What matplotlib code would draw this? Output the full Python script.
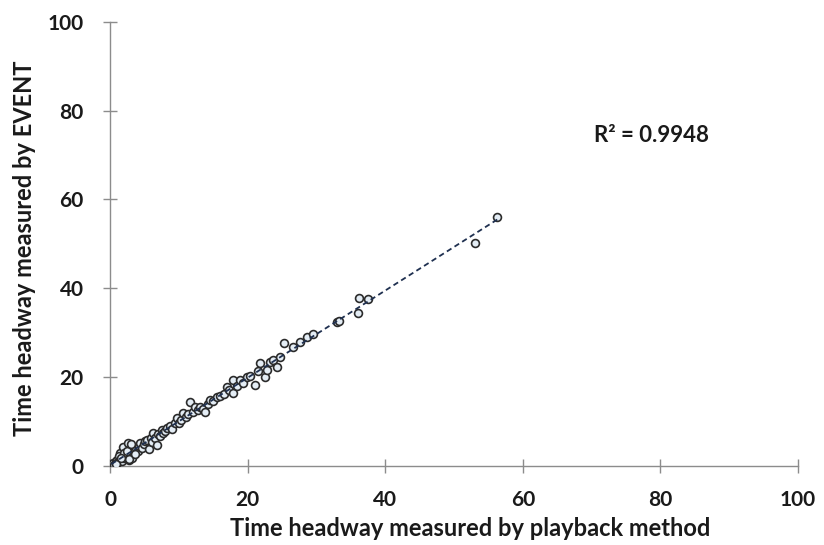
import matplotlib.pyplot as plt
import numpy as np

# Time headway (s): playback method vs EVENT
playback = [
    0.4, 0.6, 0.8, 1.0, 1.2, 1.5, 1.7, 1.9, 2.1, 2.3, 2.5, 2.6, 2.8, 3.0,
    3.2, 3.3, 3.5, 3.8, 4.0, 4.2, 4.4, 4.6, 4.9, 5.1, 5.4, 5.6, 5.9, 6.1,
    6.3, 6.6, 6.8, 7.0, 7.2, 7.5, 7.7, 8.0, 8.3, 8.7, 9.0, 9.4, 9.7, 10.0,
    10.3, 10.6, 11.0, 11.3, 11.6, 12.0, 12.4, 12.8, 13.1, 13.5, 13.8, 14.2,
    14.5, 15.0, 15.6, 16.0, 16.5, 17.0, 17.3, 17.9, 17.9, 18.4, 18.9, 19.4,
    19.9, 20.3, 21.1, 21.5, 21.8, 22.5, 22.8, 23.3, 23.7, 24.3, 24.7, 25.3,
    26.6, 27.6, 28.6, 29.5, 33.0, 33.3, 36.0, 36.2, 37.5, 53.0, 56.3,
    1.3, 2.0, 2.7, 3.6, 0.9, 1.6, 2.4, 3.1,
]
event = [
    0.7, 0.3, 1.2, 1.4, 0.9, 2.9, 1.1, 4.3, 1.8, 2.5, 2.0, 5.2, 1.4, 2.7,
    1.8, 3.6, 3.1, 4.0, 3.4, 4.6, 5.2, 4.1, 5.0, 5.6, 5.9, 3.9, 6.2, 5.4,
    7.4, 6.4, 4.7, 7.2, 6.8, 8.1, 7.5, 7.9, 8.6, 9.0, 8.4, 9.7, 10.8, 9.6,
    10.4, 11.9, 11.0, 11.6, 14.4, 12.2, 13.3, 12.6, 13.3, 12.9, 12.2, 14.0,
    14.9, 14.6, 15.5, 15.8, 16.3, 17.8, 17.1, 19.4, 16.4, 18.0, 19.4, 18.7,
    20.0, 20.3, 18.2, 21.4, 23.2, 20.0, 21.6, 23.4, 23.9, 22.3, 24.6, 27.7,
    26.8, 27.9, 29.1, 29.7, 32.4, 32.7, 34.4, 37.8, 37.6, 50.2, 56.1,
    2.2, 3.0, 1.5, 2.6, 0.5, 1.9, 3.3, 4.9,
]

x_ticks = [0, 20, 40, 60, 80, 100]
y_ticks = [0, 20, 40, 60, 80, 100]
r2_text = "R² = 0.9948"

plt.rcParams["font.family"] = ["Lato", "DejaVu Sans"]
plt.rcParams["font.weight"] = "bold"

fig = plt.figure(figsize=(8.24, 5.45), dpi=100)
ax = fig.add_axes([0.1335, 0.145, 0.835, 0.815])

xs = np.array(playback)
ys = np.array(event)
ax.scatter(xs, ys, s=32, facecolor="#e4edf5", edgecolor="#2b2b2b",
           linewidth=1.2, zorder=3)

# linear trend line over the data range
a, b = np.polyfit(xs, ys, 1)
xl = np.array([0.2, xs.max()])
ax.plot(xl, a * xl + b, linestyle=(0, (3, 2)), color="#1f3050",
        linewidth=1.3, zorder=4)

ax.set_xlim(0, 100)
ax.set_ylim(0, 100)
ax.set_xticks(x_ticks)
ax.set_yticks(y_ticks)
for s in ["top", "right"]:
    ax.spines[s].set_visible(False)
for s in ["left", "bottom"]:
    ax.spines[s].set_color("#8c8c8c")
    ax.spines[s].set_linewidth(1.0)
ax.tick_params(direction="inout", length=10, width=1.0, color="#8c8c8c",
               labelsize=15, pad=12, labelcolor="#1a1a1a")
ax.tick_params(axis="y", pad=14)

ax.set_xlabel("Time headway measured by playback method", fontsize=17,
              fontweight="bold", color="#1a1a1a")
ax.set_ylabel("Time headway measured by EVENT", fontsize=17,
              fontweight="bold", color="#1a1a1a")
ax.xaxis.set_label_coords(0.523, -0.116)
ax.yaxis.set_label_coords(-0.108, 0.49)

ax.text(70.3, 74.5, r2_text, fontsize=16, fontweight="bold",
        color="#1a1a1a", va="center", ha="left")

fig.savefig("out.png", dpi=100, facecolor="white")
